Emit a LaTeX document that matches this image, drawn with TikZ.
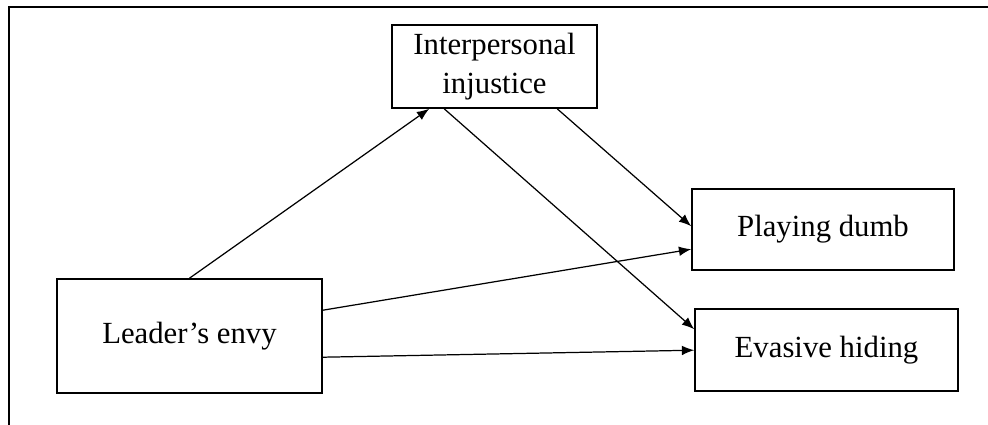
\documentclass[tikz,border=0pt]{standalone}
\usepackage{fontspec}
\setmainfont{Liberation Serif}
\usetikzlibrary{calc,arrows.meta}
\tikzset{
  varbox/.style={draw, line width=0.9pt, align=center, inner sep=0pt,
    font=\fontsize{17.5}{22}\selectfont},
  path/.style={draw, line width=0.7pt, -{Latex[length=7pt,width=5.5pt]}}
}
\begin{document}
\begin{tikzpicture}[x=0.02cm, y=-0.02cm]
	\useasboundingbox (0,0) rectangle (988,425);
	\draw[line width=1.7pt] (9,425) -- (9,7) -- (988,7);
	\node[varbox, minimum width=205*0.02cm, minimum height=83*0.02cm] (interp) at (494.5,66.5) {Interpersonal\\injustice};
	\node[varbox, minimum width=265*0.02cm, minimum height=114*0.02cm] (leader) at (189.5,336) {Leader's envy};
	\node[varbox, minimum width=262*0.02cm, minimum height=81*0.02cm] (playing) at (823,229.5) {Playing dumb};
	\node[varbox, minimum width=263*0.02cm, minimum height=82*0.02cm] (evasive) at (826.5,350) {Evasive hiding};
	\draw[path] (leader.north) -- ($(interp.south west)+(38,0)$);
	\draw[path] ($(interp.south west)+(53,0)$) -- ($(evasive.north west)+(0,21)$);
	\draw[path] ($(interp.south west)+(166,0)$) -- ($(playing.north west)+(0,38)$);
	\draw[path] ($(leader.north east)+(0,32)$) -- ($(playing.north west)+(0,61)$);
	\draw[path] ($(leader.north east)+(0,79)$) -- ($(evasive.north west)+(0,42)$);
\end{tikzpicture}
\end{document}
